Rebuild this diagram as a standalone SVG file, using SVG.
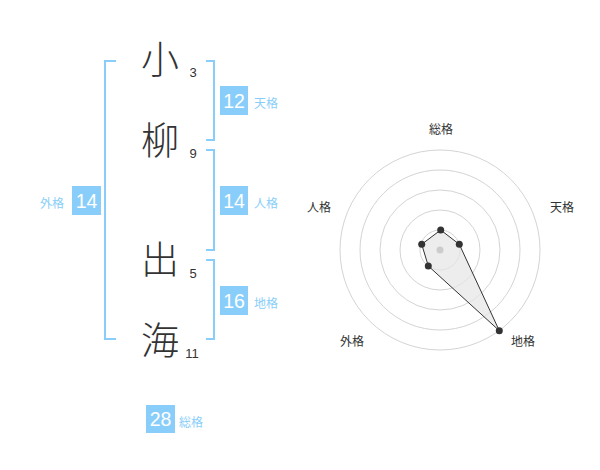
<svg xmlns="http://www.w3.org/2000/svg" width="600" height="470" viewBox="0 0 600 470">
<style>
.br{fill:none;stroke:#89CEFA;stroke-width:2}
.box{fill:#89CEFA}
.bn{font-family:"Liberation Sans",Arial,sans-serif;font-size:19.5px;fill:#fff;text-anchor:middle}
.bl{font-family:"Noto Sans CJK JP",sans-serif;font-size:12px;fill:#89CEFA}
.kj{font-family:"Noto Sans CJK JP",sans-serif;font-size:38px;font-weight:300;fill:#333;text-anchor:middle}
.st{font-family:"Liberation Sans",Arial,sans-serif;font-size:13px;fill:#333;text-anchor:middle}
.ring{fill:none;stroke:#d4d4d4;stroke-width:1}
.rl{font-family:"Noto Sans CJK JP",sans-serif;font-size:12px;fill:#333;text-anchor:middle}
.pt{fill:#333}
</style>
<g id="brackets">
<path class="br" d="M116,61 H105 V339 H116"/>
<path class="br" d="M206,61 H214 V140 H206"/>
<path class="br" d="M206,150 H214 V250 H206"/>
<path class="br" d="M206,260 H214 V339 H206"/>
</g>
<g id="chars">
<text class="kj" x="160" y="73">小</text>
<text class="st" x="193" y="77">3</text>
<text class="kj" x="160" y="154">柳</text>
<text class="st" x="193" y="158">9</text>
<text class="kj" x="160" y="273">出</text>
<text class="st" x="193" y="278">5</text>
<text class="kj" x="160" y="354">海</text>
<text class="st" x="192" y="358">11</text>
</g>
<g id="tenkaku">
<rect class="box" x="220" y="86" width="28" height="29"/>
<text class="bn" x="234" y="107.5">12</text>
<text class="bl" x="254" y="108">天格</text>
</g>
<g id="jinkaku">
<rect class="box" x="220" y="186" width="28" height="29"/>
<text class="bn" x="234" y="207.5">14</text>
<text class="bl" x="254" y="208">人格</text>
</g>
<g id="chikaku">
<rect class="box" x="220" y="286" width="28" height="29"/>
<text class="bn" x="234" y="307.5">16</text>
<text class="bl" x="254" y="308">地格</text>
</g>
<g id="gaikaku">
<rect class="box" x="72" y="186" width="29" height="29"/>
<text class="bn" x="86.5" y="207.5">14</text>
<text class="bl" x="40" y="208">外格</text>
</g>
<g id="soukaku">
<rect class="box" x="146" y="405" width="29" height="28"/>
<text class="bn" x="160.5" y="426">28</text>
<text class="bl" x="179" y="427">総格</text>
</g>
<g id="radar">
<circle class="ring" cx="440" cy="250" r="100"/>
<circle class="ring" cx="440" cy="250" r="80"/>
<circle class="ring" cx="440" cy="250" r="60"/>
<circle class="ring" cx="440" cy="250" r="40"/>
<circle class="ring" cx="440" cy="250" r="20"/>
<polygon points="440.7,230 459.3,244.3 499.3,330.7 428.3,266 421.7,244.3" fill="#e6e6e6" fill-opacity="0.7" stroke="#333" stroke-width="1"/>
<circle cx="440" cy="250" r="3.5" fill="#ccc"/>
<circle class="pt" cx="440.7" cy="230" r="3.5"/>
<circle class="pt" cx="459.3" cy="244.3" r="3.5"/>
<circle class="pt" cx="499.3" cy="330.7" r="3.5"/>
<circle class="pt" cx="428.3" cy="266" r="3.5"/>
<circle class="pt" cx="421.7" cy="244.3" r="3.5"/>
<text class="rl" x="441" y="134">総格</text>
<text class="rl" x="562" y="212">天格</text>
<text class="rl" x="319" y="212">人格</text>
<text class="rl" x="352" y="346">外格</text>
<text class="rl" x="523" y="346">地格</text>
</g>
</svg>
